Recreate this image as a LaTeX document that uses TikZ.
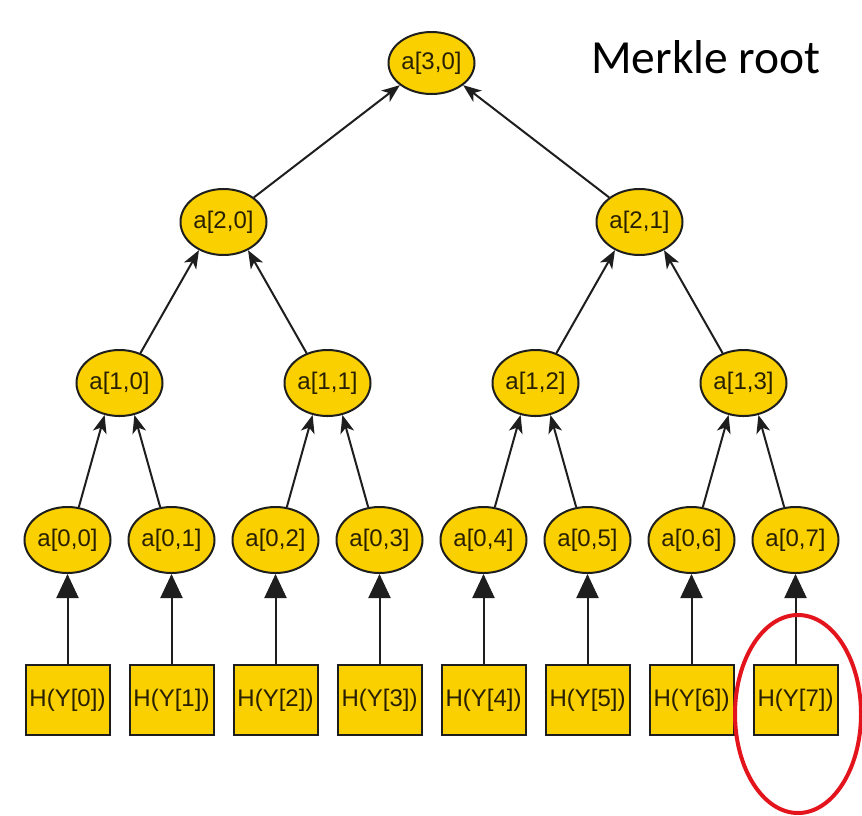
\documentclass[tikz,border=0pt]{standalone}
\usepackage{fontspec}
\setmainfont{Liberation Sans}
\newfontfamily\calib{Carlito}
\usetikzlibrary{arrows.meta,shapes.geometric}
\definecolor{gold}{RGB}{250,208,0}
\definecolor{edge}{RGB}{30,30,30}
\definecolor{txt}{RGB}{40,32,0}
\definecolor{redring}{RGB}{228,20,28}
\begin{document}
\begin{tikzpicture}[x=1pt,y=-1pt,
  hnode/.style={ellipse,draw=edge,line width=2pt,fill=gold,minimum width=86pt,minimum height=66pt,inner sep=0pt,text=txt,font=\fontsize{24}{26}\selectfont},
  leafbox/.style={rectangle,draw=edge,line width=2pt,fill=gold,minimum width=84pt,minimum height=70pt,inner sep=0pt,text=txt,font=\fontsize{24}{26}\selectfont},
  uparrow/.style={draw=edge,line width=2pt,-{Stealth[length=18pt,width=14pt,inset=5pt]}},
  leafarrow/.style={draw=edge,line width=2pt,-{Triangle[length=24pt,width=22pt]}},
  ring/.style={draw=redring,line width=4pt}
]
\useasboundingbox (0,0) rectangle (862,815);
\fill[white] (0,0) rectangle (862,815);

% root
\node[hnode,minimum height=62pt] (r30) at (431.5,63) {a[3,0]};
% level 2
\node[hnode] (a20) at (223.5,222) {a[2,0]};
\node[hnode] (a21) at (639.5,222) {a[2,1]};
% level 1
\node[hnode] (a10) at (119.5,383) {a[1,0]};
\node[hnode] (a11) at (327.5,383) {a[1,1]};
\node[hnode] (a12) at (535.5,383) {a[1,2]};
\node[hnode] (a13) at (743.5,383) {a[1,3]};
% level 0 and leaves
\foreach \i in {0,...,7}{
  \node[hnode] (a0\i) at ({67.5+104*\i},540) {a[0,\i]};
  \node[leafbox] (h\i) at ({67.5+104*\i},700) {H(Y[\i])};
  \draw[leafarrow] (h\i.north) -- (a0\i.south);
}

% level 0 -> level 1
\draw[uparrow] (a00.71) -- (a10.-115);
\draw[uparrow] (a01.109) -- (a10.-65);
\draw[uparrow] (a02.71) -- (a11.-115);
\draw[uparrow] (a03.109) -- (a11.-65);
\draw[uparrow] (a04.71) -- (a12.-115);
\draw[uparrow] (a05.109) -- (a12.-65);
\draw[uparrow] (a06.71) -- (a13.-115);
\draw[uparrow] (a07.109) -- (a13.-65);
% level 1 -> level 2
\draw[uparrow] (a10.55) -- (a20.-131);
\draw[uparrow] (a11.125) -- (a20.-49);
\draw[uparrow] (a12.55) -- (a21.-131);
\draw[uparrow] (a13.125) -- (a21.-49);
% level 2 -> root
\draw[uparrow] (a20.39) -- (r30.-145);
\draw[uparrow] (a21.141) -- (r30.-35);

% label
\node[font=\calib\fontsize{47.5}{50}\selectfont,anchor=base,text=black] (lbl) at (706,73) {Merkle root};

% red ring
\draw[ring] (798,714) ellipse [x radius=63, y radius=99];
\end{tikzpicture}
\end{document}
